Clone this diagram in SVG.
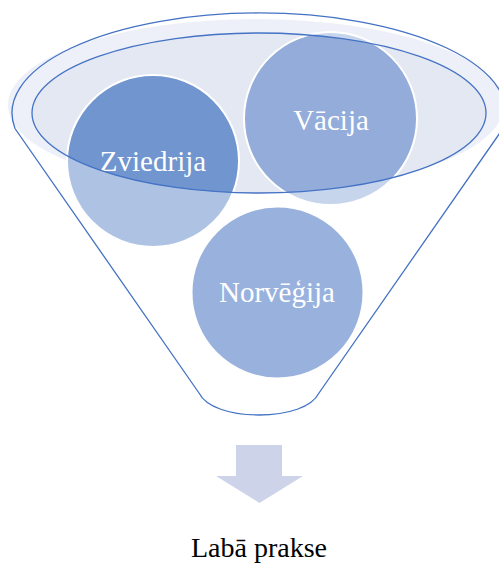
<svg xmlns="http://www.w3.org/2000/svg" width="499" height="565" viewBox="0 0 499 565">
  <defs>
    <clipPath id="innerClip">
      <ellipse cx="259" cy="113" rx="227" ry="80"/>
    </clipPath>
    <style>
      .lbl { font-family: "Liberation Serif", "Times New Roman", serif; font-size: 29px; fill: #ffffff; text-anchor: middle; }
      .ring { fill: none; stroke: #ffffff; stroke-width: 2; }
      .edge { fill: none; stroke: #4472c4; stroke-width: 1.3; }
    </style>
  </defs>
  <rect width="499" height="565" fill="#ffffff"/>

  <g id="funnel-back">
    <ellipse cx="256" cy="105" rx="248" ry="86" fill="#edf0f8"/>
    <ellipse cx="259" cy="113" rx="227" ry="80" fill="#e3e8f3"/>
  </g>

  <g id="zviedrija">
    <circle cx="153" cy="161" r="86" fill="#aec3e4"/>
    <circle cx="153" cy="161" r="86" fill="#7195cf" clip-path="url(#innerClip)"/>
    <circle cx="153" cy="161" r="86" class="ring"/>
    <text class="lbl" x="153" y="171">Zviedrija</text>
  </g>

  <g id="vacija">
    <circle cx="330.5" cy="118.5" r="86.5" fill="#c6d4ec"/>
    <circle cx="330.5" cy="118.5" r="86.5" fill="#93acd9" clip-path="url(#innerClip)"/>
    <circle cx="330.5" cy="118.5" r="86.5" class="ring"/>
    <text class="lbl" x="331" y="130">Vācija</text>
  </g>

  <g id="norvegija">
    <circle cx="277.5" cy="292.5" r="86" fill="#99b2dd"/>
    <circle cx="277.5" cy="292.5" r="86" class="ring"/>
    <text class="lbl" x="277" y="302">Norvēģija</text>
  </g>

  <g id="funnel">
    <ellipse class="edge" cx="259" cy="113" rx="227" ry="80"/>
    <path class="edge" d="M 199,393 L 15,128.5 A 247,100 0 1 1 503,128.5 L 319,393 C 312,407 288,415 259,415 C 230,415 206,407 199,393 Z"/>
  </g>

  <g id="connectors">
    <polygon points="236,445 282,445 282,476 303,476 259.5,503 216,476 236,476" fill="#cdd4ea"/>
  </g>

  <g id="result">
    <text x="259" y="557" font-family="'Liberation Serif', 'Times New Roman', serif" font-size="28" fill="#000000" text-anchor="middle">Labā prakse</text>
  </g>
</svg>
